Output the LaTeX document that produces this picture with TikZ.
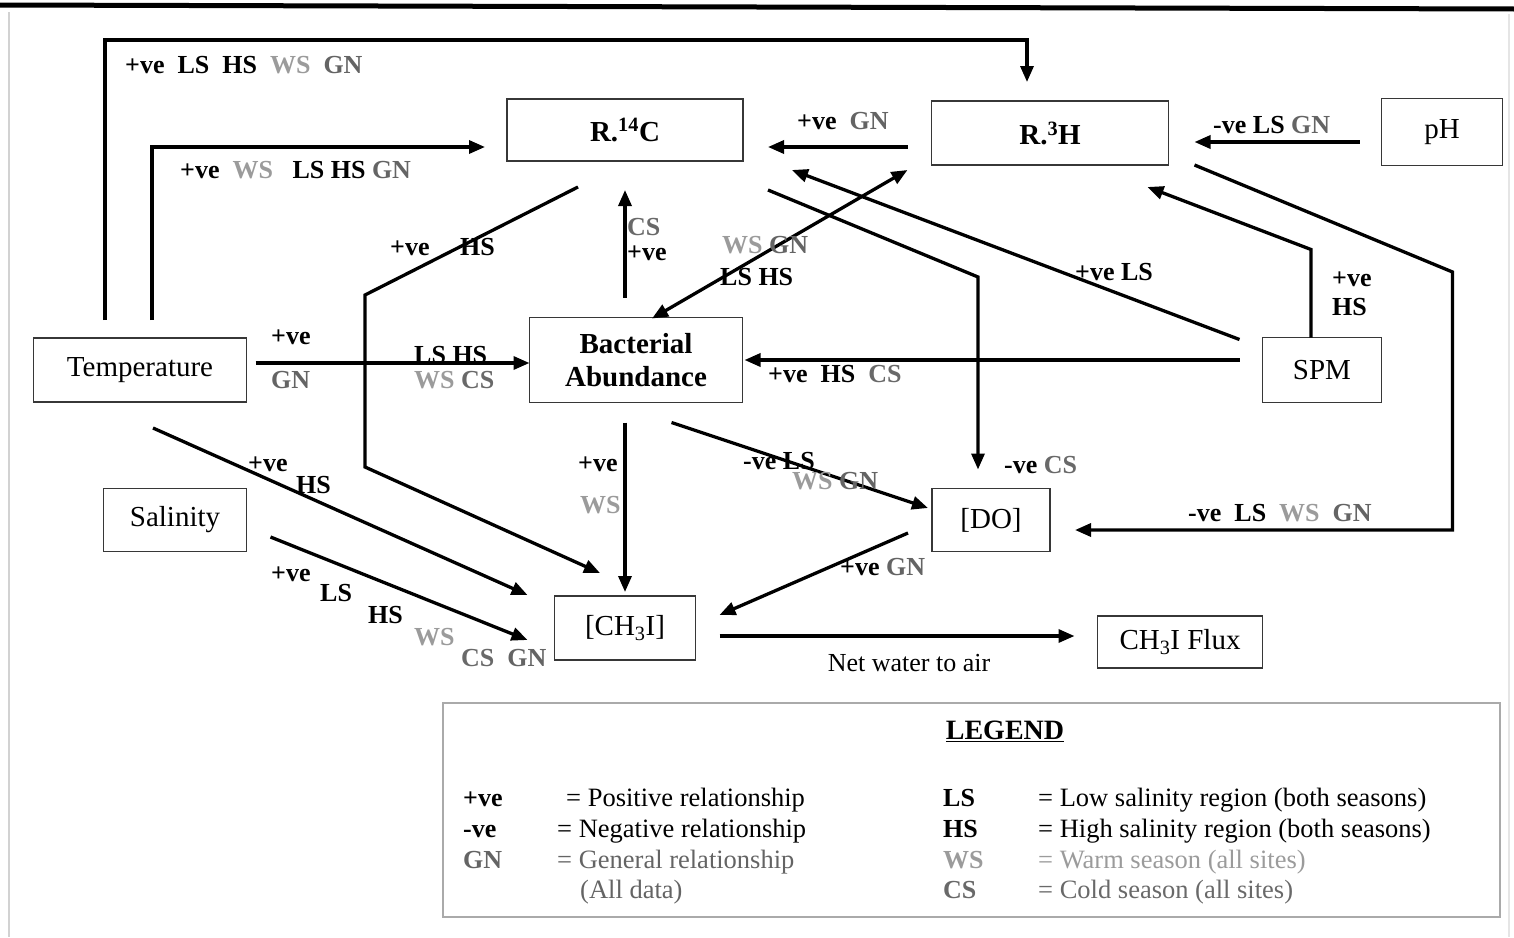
\documentclass[tikz,border=0pt]{standalone}
\usepackage{fontspec}
\setmainfont{Liberation Serif}
\usepackage{xcolor}
\usetikzlibrary{arrows.meta}
\definecolor{wsgrey}{RGB}{155,155,155}
\definecolor{gngrey}{RGB}{100,100,100}
\definecolor{csgrey}{RGB}{105,105,105}
\definecolor{boxgrey}{RGB}{55,55,55}
\definecolor{legendgrey}{RGB}{170,170,170}
\newcommand{\tWS}{\textcolor{wsgrey}{WS}}
\newcommand{\tGN}{\textcolor{gngrey}{GN}}
\newcommand{\tCS}{\textcolor{csgrey}{CS}}

\begin{document}
\begin{tikzpicture}[x=1pt, y=-1pt,
  >={Triangle[length=16pt, width=13pt]},
  box/.style={draw=boxgrey, line width=1.6pt, inner sep=0pt, outer sep=0pt,
    align=center, font=\fontsize{29}{33}\selectfont},
  bbox/.style={box, font=\fontsize{29}{33}\selectfont\bfseries},
  link/.style={line width=3.3pt, ->},
  lbl/.style={anchor=west, inner sep=0pt, text height=21pt, text depth=4pt,
    font=\fontsize{26}{28}\selectfont\bfseries},
  key/.style={anchor=west, inner sep=0pt, text height=21pt, text depth=4pt,
    font=\fontsize{26.5}{28}\selectfont}]
  \useasboundingbox (0,0) rectangle (1514,937);
  % page edges
  \draw[line width=5pt] (0,5) -- (1514,9);
  \draw[gray!35, line width=1.5pt] (9,12) -- (9,937);
  \draw[gray!20, line width=1.5pt] (1509,14) -- (1509,937);

  % Boxes
  \node[bbox, minimum width=236, minimum height=62] (r14c) at (625,130) {R.\textsuperscript{14}C};
  \node[bbox, minimum width=237, minimum height=64] (r3h) at (1050,133) {R.\textsuperscript{3}H};
  \node[box, minimum width=121, minimum height=67] (ph) at (1442,132) {pH};
  \node[box, minimum width=213, minimum height=64] (temp) at (140,370) {Temperature};
  \node[bbox, minimum width=213, minimum height=85] (bact) at (636,360) {Bacterial\\Abundance};
  \node[box, minimum width=119, minimum height=65] (spm) at (1322,370) {SPM};
  \node[box, minimum width=143, minimum height=63] (sal) at (175,520) {Salinity};
  \node[box, minimum width=118, minimum height=63] (do) at (991,520) {[DO]};
  \node[box, minimum width=141, minimum height=64] (ch3i) at (625,628) {[CH\textsubscript{3}I]};
  \node[box, minimum width=165, minimum height=52] (flux) at (1180,642) {CH\textsubscript{3}I Flux};

  % Temperature links
  \draw[link] ([shift={(-35,-18)}]temp.north) |- ([shift={(-23,-61)}]r3h.north)
    -- ([shift={(-23,-19)}]r3h.north);
  \node[lbl] (l1) at (125,65) {+ve~~LS~~HS~~\tWS~~\tGN};
  \draw[link] ([shift={(12,-18)}]temp.north) |- ([shift={(-22,17)}]r14c.west);
  \node[lbl] (l2) at (180,170) {+ve~~\tWS~~~LS HS \tGN};
  \draw[link] ([shift={(9,-7)}]temp.east) -- ([shift={(0,3)}]bact.west);
  \node[lbl] (l3a) at (271,336) {+ve};
  \node[lbl] (l3b) at (271,380) {\tGN};
  \node[lbl] (l3c) at (414,355) {LS HS};
  \node[lbl] (l3d) at (414,380) {\tWS\ \tCS};
  \draw[link] ([shift={(13,26)}]temp.south) -- ([shift={(-27,-1)}]ch3i.north west);
  \node[lbl] (l4a) at (248,463) {+ve};
  \node[lbl] (l4b) at (296,485) {HS};

  % Salinity link
  \draw[link] ([shift={(24,17)}]sal.east) -- ([shift={(-27,12)}]ch3i.west);
  \node[lbl] (l5a) at (271,573) {+ve};
  \node[lbl] (l5b) at (320,593) {LS};
  \node[lbl] (l5c) at (368,615) {HS};
  \node[lbl] (l5d) at (414,637) {\tWS};
  \node[lbl] (l5e) at (461,658) {\tCS~~\tGN};

  % R.14C and R.3H links
  \draw[link] ([shift={(-47,26)}]r14c.south) -- ++(-213,108) -- ++(0,172)
    -- ([shift={(-25,-23)}]ch3i.north);
  \node[lbl] (l6a) at (390,247) {+ve};
  \node[lbl] (l6b) at (460,247) {HS};
  \draw[link] ([shift={(-11,-20)}]bact.north) -- ([shift={(0,29)}]r14c.south);
  \node[lbl] (l7a) at (627,227) {\tCS};
  \node[lbl] (l7b) at (627,252) {+ve};
  \draw[link, <->] ([shift={(-24,5)}]r3h.south west) -- ([shift={(16,1)}]bact.north);
  \node[lbl] (l8a) at (722,245) {\tWS\ \tGN};
  \node[lbl] (l8b) at (720,277) {LS HS};
  \draw[link] ([shift={(-24,14)}]r3h.west) -- ([shift={(25,17)}]r14c.east);
  \node[lbl] (l9) at (797,121) {+ve~~\tGN};
  \draw[link] ([shift={(-22,10)}]ph.west) -- ([shift={(26,9)}]r3h.east);
  \node[lbl] (l10) at (1213,125) {-ve LS \tGN};
  \draw[link] ([shift={(25,29)}]r14c.south east) -- ++(210,87) -- ([shift={(-13,-19)}]do.north);
  \node[lbl] (l11) at (1004,465) {-ve \tCS};
  \draw[link] ([shift={(26,0)}]r3h.south east) -- ++(258,107) |- ([shift={(25,10)}]do.east);
  \node[lbl] (l12) at (1188,513) {-ve~~LS~~\tWS~~\tGN};

  % SPM links
  \draw[link] ([shift={(-23,2)}]spm.north west) -- ([shift={(49,9)}]r14c.south east);
  \node[lbl] (l13) at (1075,272) {+ve LS};
  \draw[link] ([shift={(-11,0)}]spm.north) -- ++(0,-88) -- ([shift={(-21,22)}]r3h.south east);
  \node[lbl] (l14a) at (1332,278) {+ve};
  \node[lbl] (l14b) at (1332,307) {HS};
  \draw[link] ([shift={(-23,-10)}]spm.west) -- ([shift={(2,0)}]bact.east);
  \node[lbl] (l15) at (768,374) {+ve~~HS~~\tCS};

  % Bacteria and [DO] links
  \draw[link] ([shift={(-11,20)}]bact.south) -- ([shift={(0,-4)}]ch3i.north);
  \node[lbl] (l16a) at (578,463) {+ve};
  \node[lbl] (l16b) at (580,505) {\tWS};
  \draw[link] ([shift={(-71,20)}]bact.south east) -- ([shift={(-4,-12)}]do.west);
  \node[lbl] (l17a) at (743,461) {-ve LS};
  \node[lbl] (l17b) at (792,481) {\tWS\ \tGN};
  \draw[link] ([shift={(-24,13)}]do.west) -- ([shift={(24,-13)}]ch3i.east);
  \node[lbl] (l18) at (840,567) {+ve \tGN};
  \draw[link] ([shift={(24,8)}]ch3i.east) -- ([shift={(-23,-6)}]flux.west);
  \node[key, anchor=center, font=\fontsize{26}{28}\selectfont] (l19) at (909,663) {Net water to air};

  % Legend
  \draw[legendgrey, line width=1.4pt] (443,703) rectangle (1500,917);
  \node[inner sep=0pt, font=\fontsize{28}{30}\selectfont\bfseries] (legend) at (1005,731) {\underline{LEGEND}};
  \node[lbl] (k1) at (463,798) {+ve};
  \node[key] (d1) at (566,798) {= Positive relationship};
  \node[lbl] (k2) at (463,829) {-ve};
  \node[key] (d2) at (557,829) {= Negative relationship};
  \node[lbl] (k3) at (463,860) {\tGN};
  \node[key, text=gngrey] (d3) at (557,860) {= General relationship};
  \node[key, text=gngrey] (d3b) at (580,890) {(All data)};
  \node[lbl] (k4) at (943,798) {LS};
  \node[key] (d4) at (1038,798) {= Low salinity region (both seasons)};
  \node[lbl] (k5) at (943,829) {HS};
  \node[key] (d5) at (1038,829) {= High salinity region (both seasons)};
  \node[lbl] (k6) at (943,860) {\tWS};
  \node[key, text=wsgrey] (d6) at (1038,860) {= Warm season (all sites)};
  \node[lbl] (k7) at (943,890) {\tCS};
  \node[key, text=csgrey] (d7) at (1038,890) {= Cold season (all sites)};
\end{tikzpicture}
\end{document}
